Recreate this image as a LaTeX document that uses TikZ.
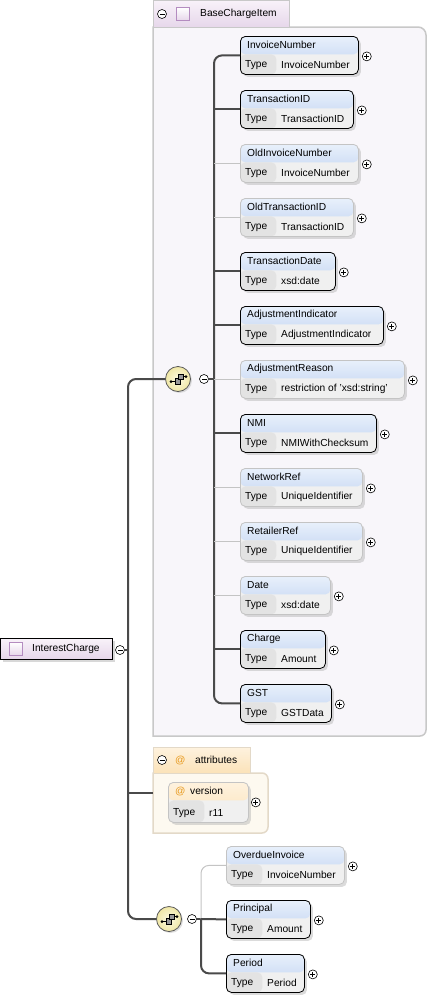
\documentclass[tikz,border=0pt]{standalone}
\usepackage{fontspec}
\setmainfont{Liberation Sans}
\usetikzlibrary{shadows}

\definecolor{spine}{HTML}{4A4A4A}
\definecolor{optline}{HTML}{C4C4C4}
\definecolor{hdtop}{HTML}{E8F0FB}
\definecolor{hdbot}{HTML}{BBCFF0}
\definecolor{typebg}{HTML}{F0F0F0}
\definecolor{typelbl}{HTML}{E3E3E3}
\definecolor{grpfill}{HTML}{F8F6FA}
\definecolor{grpline}{HTML}{C8C8C8}
\definecolor{lavtop}{HTML}{F8F2F9}
\definecolor{lavbot}{HTML}{E6D6EA}
\definecolor{iconline}{HTML}{B48CC0}
\definecolor{attrtop}{HTML}{FEF2DE}
\definecolor{attrbot}{HTML}{FBE2B8}
\definecolor{attrfill}{HTML}{FDF9F0}
\definecolor{attrline}{HTML}{E3D9C8}
\definecolor{atsign}{HTML}{E89A1E}
\definecolor{seqin}{HTML}{FCFAE2}
\definecolor{seqout}{HTML}{F0E7A6}

\tikzset{
  lbl/.style={anchor=west, inner sep=0pt, font=\fontsize{10.2}{12}\selectfont},
  hd/.style={top color=hdtop, bottom color=hdbot},
  el/.style={rectangle, rounded corners=5pt, anchor=north west, minimum height=38pt,
    inner sep=0pt, line width=0.8pt, fill=typebg,
    drop shadow={shadow xshift=2.5pt, shadow yshift=-2.5pt, fill=black!28},
    path picture={
      \fill[hd] (path picture bounding box.north west) rectangle ([yshift=-18pt]path picture bounding box.north east);
      \fill[typelbl] ([yshift=-18pt]path picture bounding box.north west) rectangle ([xshift=36pt]path picture bounding box.south west);
    }},
  pm/.style={circle, draw=black, fill=white, line width=0.6pt, minimum size=9pt, inner sep=0pt},
  minus/.style={pm, path picture={
      \draw[line width=0.7pt] ([xshift=-2.5pt]path picture bounding box.center) -- ([xshift=2.5pt]path picture bounding box.center);}},
  plus/.style={pm, path picture={
      \draw[line width=0.7pt] ([xshift=-2.5pt]path picture bounding box.center) -- ([xshift=2.5pt]path picture bounding box.center)
        ([yshift=-2.5pt]path picture bounding box.center) -- ([yshift=2.5pt]path picture bounding box.center);}},
  icon/.style={rectangle, minimum size=13pt, inner sep=0pt, draw=iconline, line width=0.8pt, top color=white, bottom color=lavbot},
  seq/.style={circle, minimum size=25pt, inner sep=0pt, draw=black!65, line width=0.8pt,
    inner color=seqin, outer color=seqout,
    drop shadow={shadow xshift=1.5pt, shadow yshift=-1.5pt, fill=black!25}},
  req line/.style={draw=spine, line width=2pt},
  opt line/.style={draw=optline, line width=1pt},
  seqicon/.pic={
    \draw[line width=0.7pt] (-7,2.5) -- (-2.5,2.5) (5,-2.5) -- (8,-2.5);
    \fill (-7,2.5) circle (1.5) (8,-2.5) circle (1.5);
    \draw[fill=black!40, line width=0.7pt] (-2.5,-0.5) rectangle (2.5,5);
    \draw[fill=black!40, line width=0.7pt] (0.5,-5) rectangle (5.5,0.5);
  }
}

\begin{document}
\begin{tikzpicture}[x=1pt,y=-1pt]
\useasboundingbox (0,0) rectangle (428,999);
\fill[white] (0,0) rectangle (428,999);

% group boxes
\draw[draw=grpline, fill=grpfill, line width=1.5pt] (153,27) -- (418,27) arc[start angle=-90, end angle=0, radius=8]
  -- (426,730) arc[start angle=0, end angle=90, radius=6] -- (153,736) -- cycle;
\node[rectangle, anchor=north west, minimum width=136pt, minimum height=27pt, inner sep=0pt,
  draw=grpline, line width=1pt, top color=lavtop, bottom color=lavbot] (bci) at (153,0) {};
\node[minus] (bcim) at (162,14) {};
\node[icon] (bcii) at (183,14) {};
\node[lbl] (bcit) at (200,14) {BaseChargeItem};

\draw[draw=attrline, fill=attrfill, line width=1.5pt] (153,773) -- (262,773) arc[start angle=-90, end angle=0, radius=6]
  -- (268,827) arc[start angle=0, end angle=90, radius=6] -- (153,833) -- cycle;
\node[rectangle, anchor=north west, minimum width=97pt, minimum height=26pt, inner sep=0pt,
  draw=attrline, line width=1pt, top color=attrtop, bottom color=attrbot] (att) at (153,747) {};
\node[minus] (atm) at (162,760) {};
\node[lbl, text=atsign] (att-a) at (175,760) {@};
\node[lbl] (att-t) at (195,760) {attributes};

% root
\node[rectangle, anchor=north west, minimum width=112pt, minimum height=21pt, inner sep=0pt,
  draw=black, line width=0.8pt, top color=lavtop, bottom color=lavbot,
  drop shadow={shadow xshift=3pt, shadow yshift=-3pt, fill=black!30}] (ic) at (0,638) {};
\node[icon] (ici) at (16,649) {};
\node[lbl] (ict) at (32,649) {InterestCharge};
\node[minus] (icm) at (120,650) {};

% compositors
\node[seq] (seq1) at (178,379) {};
\pic at (seq1) {seqicon};
\node[minus] (seq1m) at (204,379) {};
\node[seq] (seq2) at (169,919) {};
\pic at (seq2) {seqicon};
\node[minus] (seq2m) at (192,919) {};

% elements
\foreach \n/\y/\w/\ti/\ty/\c in {
  inv/36/118/InvoiceNumber/InvoiceNumber/black,
  tid/90/113/TransactionID/TransactionID/black,
  oldinv/144/118/OldInvoiceNumber/InvoiceNumber/optline,
  oldtid/198/113/OldTransactionID/TransactionID/optline,
  tdate/252/95/TransactionDate/xsd:date/black,
  adjind/306/143/AdjustmentIndicator/AdjustmentIndicator/black,
  adjrsn/360/164/AdjustmentReason/restriction of 'xsd:string'/optline,
  nmi/414/136/NMI/NMIWithChecksum/black,
  netref/468/122/NetworkRef/UniqueIdentifier/optline,
  retref/522/122/RetailerRef/UniqueIdentifier/optline,
  date/576/90/Date/xsd:date/optline,
  charge/630/85/Charge/Amount/black,
  gst/684/91/GST/GSTData/black}{
  \node[el, draw=\c, minimum width=\w pt] (\n) at (240,\y) {};
  \node[lbl] (\n-t) at ([xshift=7pt,yshift=-9pt]\n.north west) {\ti};
  \node[lbl] (\n-k) at ([xshift=5pt,yshift=10pt]\n.south west) {Type};
  \node[lbl] (\n-v) at ([xshift=41pt,yshift=10pt]\n.south west) {\ty};
  \node[plus] (\n-p) at ([xshift=8pt,yshift=-1pt]\n.east) {};
}
\foreach \n/\y/\w/\ti/\ty/\c in {
  over/846/118/OverdueInvoice/InvoiceNumber/optline,
  prin/900/84/Principal/Amount/black,
  per/954/78/Period/Period/black}{
  \node[el, draw=\c, minimum width=\w pt] (\n) at (226,\y) {};
  \node[lbl] (\n-t) at ([xshift=7pt,yshift=-9pt]\n.north west) {\ti};
  \node[lbl] (\n-k) at ([xshift=5pt,yshift=10pt]\n.south west) {Type};
  \node[lbl] (\n-v) at ([xshift=41pt,yshift=10pt]\n.south west) {\ty};
  \node[plus] (\n-p) at ([xshift=8pt,yshift=-1pt]\n.east) {};
}

% attribute
\node[el, draw=optline, hd/.style={top color=attrtop, bottom color=attrbot}, minimum width=80pt, minimum height=40pt] (ver) at (168,782) {};
\node[lbl, text=atsign] (ver-a) at ([xshift=7pt,yshift=-9pt]ver.north west) {@};
\node[lbl] (ver-t) at ([xshift=22pt,yshift=-9pt]ver.north west) {version};
\node[lbl] (ver-k) at ([xshift=5pt,yshift=10pt]ver.south west) {Type};
\node[lbl] (ver-v) at ([xshift=41pt,yshift=10pt]ver.south west) {r11};
\node[plus] (ver-p) at ([xshift=7pt]ver.east) {};

% connectors
\coordinate (sp0) at (128,650);
\coordinate (sp1) at (214,379);
\coordinate (sp2) at (201,919);
\coordinate (atin) at (153,793);
\draw[req line] (icm.east) -- (sp0);
\draw[req line, rounded corners=8pt] (seq1.west) -| (sp0) |- (seq2.west);
\draw[req line] (sp0 |- atin) -- (atin);

\draw[req line] (seq1m.east) -- (sp1);
\draw[req line, rounded corners=8pt] (inv.west) -| (sp1) |- (gst.west);
\foreach \n in {tid,tdate,adjind,nmi,charge}
  \draw[req line] (sp1 |- \n.west) -- (\n.west);
\foreach \n in {oldinv,oldtid,adjrsn,netref,retref,date}
  \draw[opt line] (sp1 |- \n.west) -- (\n.west);

\draw[req line] (seq2m.east) -- (sp2);
\draw[opt line, rounded corners=8pt] (over.west) -| (sp2);
\draw[req line] (sp2) -- (prin.west);
\draw[req line, rounded corners=8pt] (sp2) |- (per.west);
\end{tikzpicture}
\end{document}
